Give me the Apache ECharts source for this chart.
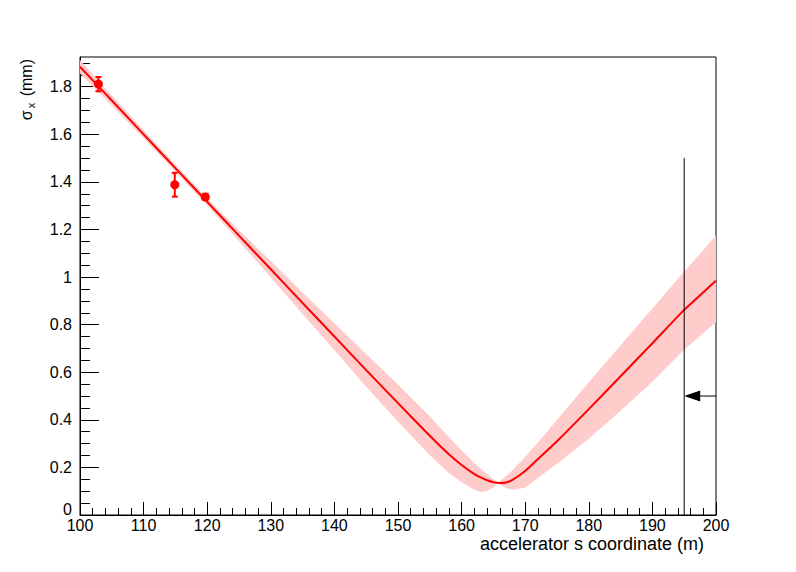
<!DOCTYPE html>
<html>
<head>
<meta charset="utf-8">
<script src="https://cdn.jsdelivr.net/npm/echarts@6/dist/echarts.min.js"></script>
<style>html,body{margin:0;padding:0;background:#fff;}#c{width:796px;height:572px;}</style>
</head>
<body>
<div id="c"></div>
<script>
// ---- data ----
const sGrid      = [100,105,110,115,120,125,130,135,140,145,150,155,158,160,162,163,164,165,166,167,168,170,172,175,180,185,190,195,200];
const sigmaFit   = [1.884,1.742,1.600,1.458,1.316,1.174,1.033,0.891,0.750,0.609,0.470,0.333,0.255,0.210,0.172,0.158,0.146,0.138,0.135,0.137,0.148,0.185,0.235,0.310,0.445,0.583,0.722,0.862,0.985];
const bandEdgeA  = [1.912,1.763,1.617,1.473,1.331,1.197,1.068,0.935,0.806,0.677,0.548,0.415,0.327,0.272,0.218,0.195,0.172,0.150,0.128,0.113,0.106,0.115,0.155,0.215,0.320,0.438,0.560,0.695,0.810];
const bandEdgeB  = [1.856,1.721,1.583,1.443,1.301,1.151,0.998,0.845,0.692,0.539,0.392,0.251,0.177,0.138,0.106,0.097,0.101,0.117,0.142,0.165,0.188,0.245,0.305,0.400,0.558,0.713,0.868,1.023,1.175];
const measS      = [102.9, 114.9, 119.7];
const measSigma  = [1.811, 1.388, 1.337];
const measErr    = [0.030, 0.050, 0.013];
const markerS    = 195;
const markerTop  = 1.5;
const arrowY     = 0.5;
const arrowFromS = 200;
const xMin = 100, xMax = 200, xStep = 10;
const yMin = 0, yMax = 1.925, yStep = 0.2, yMinorStep = 0.05;
const xTitle = 'accelerator s coordinate (m)';
const yTitle = '{s|σ}{x|x}{s| (mm)}';

const FONT = 'Liberation Sans';
const chart = echarts.init(document.getElementById('c'), null, {renderer: 'svg'});

const option = {
  animation: false,
  backgroundColor: '#fff',
  grid: {left: 80, right: 80, top: 57, bottom: 57, containLabel: false, outerBoundsMode: 'none',
         show: true, borderColor: '#000', borderWidth: 1, backgroundColor: 'transparent'},
  xAxis: {
    type: 'value', min: xMin, max: xMax, interval: xStep,
    axisLine: {lineStyle: {color: '#000', width: 1}},
    axisTick: {inside: true, length: 13, lineStyle: {color: '#000'}},
    minorTick: {show: true, splitNumber: 5, length: 7, lineStyle: {color: '#000'}},
    splitLine: {show: false},
    axisLabel: {color: '#000', fontFamily: FONT, fontSize: 16, margin: 3, lineHeight: 14},
    name: xTitle, nameLocation: 'end', nameGap: -12,
    nameTextStyle: {color: '#000', fontFamily: FONT, fontSize: 18, align: 'right', verticalAlign: 'top', padding: [20, 0, 0, 0]}
  },
  yAxis: [{
    type: 'value', min: yMin, max: yMax, interval: yStep,
    axisLine: {show: true, lineStyle: {color: '#000', width: 1}},
    axisTick: {show: true, inside: true, length: 19, lineStyle: {color: '#000'}},
    splitLine: {show: false},
    axisLabel: {color: '#000', fontFamily: FONT, fontSize: 16, margin: 8, lineHeight: 14, showMaxLabel: false,
                formatter: function (v) { return v === 0 ? '' : String(v); }},
    name: yTitle, nameLocation: 'end', nameRotate: 90, nameGap: -2,
    nameTextStyle: {
      color: '#000', align: 'right', verticalAlign: 'bottom', padding: [0, 0, 44, 0],
      rich: {
        s: {fontFamily: FONT, fontSize: 16, color: '#000', lineHeight: 20},
        x: {fontFamily: FONT, fontSize: 11, color: '#000', verticalAlign: 'bottom', lineHeight: 20, padding: [0, 2, 0, 2]}
      }
    }
  }, {
    type: 'value', min: yMin, max: yMax, interval: yMinorStep, position: 'left',
    axisLine: {show: false},
    axisTick: {show: true, inside: true, length: 10, lineStyle: {color: '#000'}},
    axisLabel: {show: true, color: '#000', fontFamily: FONT, fontSize: 16, margin: 8, lineHeight: 12,
                verticalAlign: 'bottom', showMaxLabel: false,
                formatter: function (v) { return v === 0 ? '0' : ''; }},
    splitLine: {show: false}
  }],
  series: [
    {
      type: 'custom', name: 'band', clip: true, z: 1,
      data: [[sGrid[0], sigmaFit[0]]],
      renderItem: function (params, api) {
        const pts = [];
        for (let i = 0; i < sGrid.length; i++) pts.push(api.coord([sGrid[i], bandEdgeA[i]]));
        for (let i = sGrid.length - 1; i >= 0; i--) pts.push(api.coord([sGrid[i], bandEdgeB[i]]));
        return {type: 'polygon', shape: {points: pts}, style: {fill: '#ffcccc', stroke: 'none'}};
      }
    },
    {
      type: 'line', name: 'fit', z: 3,
      data: sGrid.map((s, i) => [s, sigmaFit[i]]),
      showSymbol: false, symbol: 'none', smooth: 0.2,
      lineStyle: {color: '#ff0000', width: 2}
    },
    {
      type: 'custom', name: 'measured', z: 4,
      data: measS.map((s, i) => [s, measSigma[i], measErr[i]]),
      renderItem: function (params, api) {
        const s = api.value(0), v = api.value(1), e = api.value(2);
        const c = api.coord([s, v]);
        const t = api.coord([s, v + e]);
        const b = api.coord([s, v - e]);
        const st = {stroke: '#ff0000', lineWidth: 2};
        return {type: 'group', children: [
          {type: 'line', shape: {x1: c[0], y1: t[1], x2: c[0], y2: b[1]}, style: st},
          {type: 'line', shape: {x1: c[0] - 3, y1: t[1], x2: c[0] + 3, y2: t[1]}, style: st},
          {type: 'line', shape: {x1: c[0] - 3, y1: b[1], x2: c[0] + 3, y2: b[1]}, style: st},
          {type: 'circle', shape: {cx: c[0], cy: c[1], r: 4.5}, style: {fill: '#ff0000'}}
        ]};
      }
    },
    {
      type: 'custom', name: 'marker', z: 5,
      data: [[markerS, markerTop, arrowY, arrowFromS]],
      renderItem: function (params, api) {
        const s = api.value(0);
        const p0 = api.coord([s, 0]);
        const p1 = api.coord([s, api.value(1)]);
        const tip = api.coord([s, api.value(2)]);
        const from = api.coord([api.value(3), api.value(2)]);
        return {type: 'group', children: [
          {type: 'line', shape: {x1: p0[0], y1: p0[1], x2: p1[0], y2: p1[1]}, style: {stroke: '#000', lineWidth: 1}},
          {type: 'line', shape: {x1: tip[0] + 14, y1: tip[1], x2: from[0], y2: from[1]}, style: {stroke: '#000', lineWidth: 1}},
          {type: 'polygon', shape: {points: [[tip[0], tip[1]], [tip[0] + 16, tip[1] - 5.5], [tip[0] + 16, tip[1] + 5.5]]}, style: {fill: '#000'}}
        ]};
      }
    }
  ]
};
chart.setOption(option);
</script>
</body>
</html>
